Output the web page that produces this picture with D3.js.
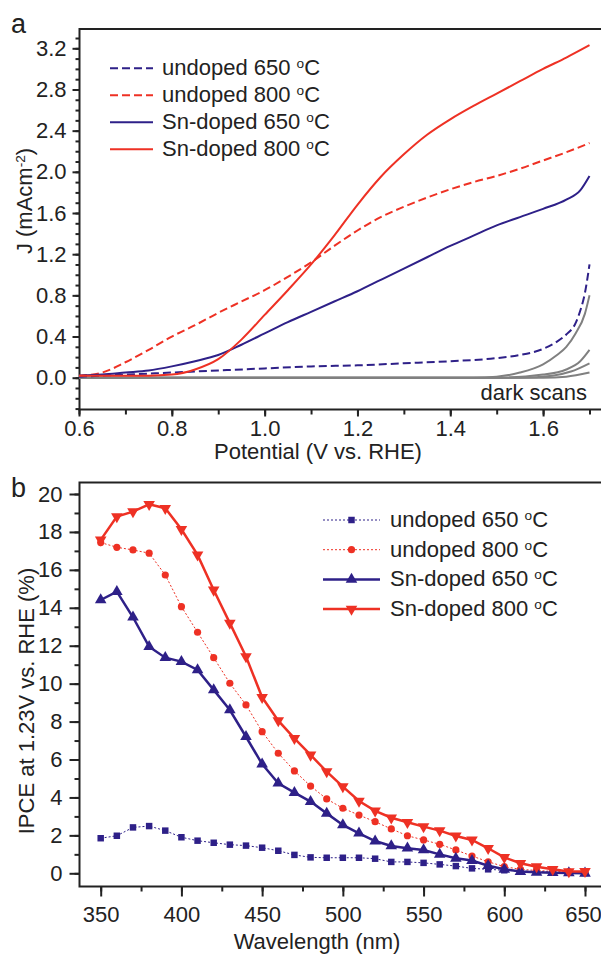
<!DOCTYPE html>
<html>
<head>
  <meta charset="utf-8">
  <title>J-V and IPCE of undoped / Sn-doped films</title>
  <script src="https://d3js.org/d3.v7.min.js"></script>
  <style>
    body { margin: 0; background: #fff; }
    text { font-family: "Liberation Sans", Arial, sans-serif; fill: #222; }
  </style>
</head>
<body>
  <script>
    // ---- panel a: J-V curves (V vs. RHE, mA cm-2) ----
    let potGrid = [0.6, 0.65, 0.7, 0.75, 0.8, 0.85, 0.9, 0.95, 1.0, 1.05, 1.1, 1.15,
                   1.2, 1.25, 1.3, 1.35, 1.4, 1.45, 1.5, 1.55, 1.6, 1.65, 1.7];
    let jSn800 = [0.02, 0.02, 0.02, 0.02, 0.03, 0.08, 0.18, 0.37, 0.61, 0.85, 1.10, 1.38,
                  1.68, 1.95, 2.17, 2.36, 2.51, 2.64, 2.76, 2.88, 3.00, 3.11, 3.23];
    let jUn800 = [0.02, 0.05, 0.15, 0.27, 0.40, 0.51, 0.63, 0.74, 0.85, 0.98, 1.12, 1.28,
                  1.43, 1.56, 1.66, 1.75, 1.83, 1.90, 1.96, 2.03, 2.11, 2.19, 2.28];
    let potSn650 = [0.6, 0.65, 0.7, 0.75, 0.8, 0.85, 0.9, 0.95, 1.0, 1.05, 1.1, 1.15,
                    1.2, 1.25, 1.3, 1.35, 1.4, 1.45, 1.5, 1.55, 1.6, 1.65, 1.68, 1.7];
    let jSn650 = [0.02, 0.03, 0.05, 0.07, 0.11, 0.16, 0.22, 0.32, 0.43, 0.54, 0.64, 0.74,
                  0.84, 0.95, 1.06, 1.17, 1.28, 1.38, 1.48, 1.56, 1.64, 1.73, 1.82, 1.96];
    let potUn650 = [0.6, 0.7, 0.8, 0.9, 1.0, 1.1, 1.2, 1.3, 1.4, 1.5, 1.55, 1.6, 1.63,
                    1.65, 1.67, 1.68, 1.69, 1.7];
    let jUn650 = [0.01, 0.03, 0.05, 0.07, 0.09, 0.11, 0.12, 0.14, 0.16, 0.19, 0.22, 0.28,
                  0.35, 0.42, 0.53, 0.65, 0.82, 1.10];
    // dark scans
    let potDark1 = [0.6, 1.45, 1.5, 1.55, 1.6, 1.63, 1.65, 1.67, 1.69, 1.7];
    let jDark1 = [0, 0, 0.01, 0.05, 0.13, 0.22, 0.30, 0.43, 0.62, 0.80];
    let potDark2 = [0.6, 1.5, 1.6, 1.65, 1.68, 1.7];
    let jDark2 = [0, 0, 0.03, 0.08, 0.16, 0.27];
    let potDark3 = [0.6, 1.55, 1.62, 1.66, 1.7];
    let jDark3 = [0, 0, 0.02, 0.06, 0.14];
    let potDark4 = [0.6, 1.6, 1.65, 1.7];
    let jDark4 = [0, 0, 0.01, 0.05];

    let potTicks = [0.6, 0.8, 1.0, 1.2, 1.4, 1.6];
    let jTicks = [0.0, 0.4, 0.8, 1.2, 1.6, 2.0, 2.4, 2.8, 3.2];

    // ---- panel b: IPCE at 1.23 V vs. RHE (%) ----
    let wavelength = [350, 360, 370, 380, 390, 400, 410, 420, 430, 440, 450, 460, 470, 480,
                      490, 500, 510, 520, 530, 540, 550, 560, 570, 580, 590, 600, 610, 620,
                      630, 640, 650];
    let ipceUn650 = [1.85, 1.98, 2.42, 2.49, 2.25, 1.90, 1.72, 1.61, 1.51, 1.46, 1.35, 1.19,
                     0.97, 0.84, 0.82, 0.82, 0.82, 0.77, 0.60, 0.60, 0.55, 0.47, 0.38, 0.26,
                     0.21, 0.16, 0.12, 0.09, 0.06, 0.04, 0.02];
    let ipceUn800 = [17.44, 17.19, 17.05, 16.88, 15.73, 14.06, 12.71, 11.37, 10.02, 8.88,
                     7.47, 6.33, 5.40, 4.60, 3.92, 3.43, 3.07, 2.72, 2.34, 1.98, 1.76, 1.53,
                     1.23, 0.91, 0.61, 0.35, 0.21, 0.15, 0.10, 0.08, 0.05];
    let ipceSn650 = [14.41, 14.85, 13.50, 11.95, 11.37, 11.16, 10.72, 9.67, 8.61, 7.20, 5.76,
                     4.75, 4.25, 3.78, 3.16, 2.55, 2.11, 1.70, 1.44, 1.32, 1.23, 1.00, 0.79,
                     0.67, 0.40, 0.21, 0.09, 0.05, 0.03, 0.02, 0.00];
    let ipceSn800 = [17.58, 18.81, 19.07, 19.46, 19.25, 18.14, 16.79, 14.94, 13.19, 11.43,
                     9.28, 8.05, 7.12, 6.24, 5.36, 4.57, 3.81, 3.29, 2.93, 2.69, 2.46, 2.25,
                     1.97, 1.76, 1.32, 0.84, 0.53, 0.35, 0.21, 0.09, 0.10];

    let wlTicks = [350, 400, 450, 500, 550, 600, 650];
    let ipceTicks = [0, 2, 4, 6, 8, 10, 12, 14, 16, 18, 20];

    let navy = "#2e2088", red = "#ee3124", gray = "#808080";
    let fs = 22;

    let svg = d3.select("body")
                .append("svg")
                .attr("width", 601)
                .attr("height", 954);

    function zip(xs, ys) { return xs.map(function(x, i) { return [x, ys[i]]; }); }

    // superscripted label helper: parts = [[text, isSup], ...]
    function richText(sel, parts, size) {
      parts.forEach(function(p) {
        let t = sel.append("tspan").text(p[0]);
        if (p[1]) t.attr("font-size", size * 0.62).attr("baseline-shift", "super");
      });
      return sel;
    }

    // =========== panel a ===========
    let ax = d3.scaleLinear().domain([0.6, 1.7]).range([79, 589.5]);
    let ay = d3.scaleLinear().domain([0, 3.2]).range([377.7, 48.3]);
    let aTop = 29, aBot = 409.5;

    let ga = svg.append("g");

    // y axis, major + minor
    ga.append("g")
      .attr("transform", "translate(79.5,0)")
      .call(d3.axisLeft(ay).tickValues(d3.range(-3, 34).map(function(i) { return i / 10; }))
              .tickSize(4).tickFormat(""))
      .call(function(g) { g.select(".domain").remove(); });
    ga.append("g")
      .attr("transform", "translate(79.5,0)")
      .call(d3.axisLeft(ay).tickValues(jTicks).tickSize(7).tickPadding(6).tickFormat(d3.format(".1f")))
      .call(function(g) { g.select(".domain").remove(); });

    // x axis, major + minor
    ga.append("g")
      .attr("transform", "translate(0," + aBot + ")")
      .call(d3.axisBottom(ax).tickValues(d3.range(6, 18).map(function(i) { return i / 10; }))
              .tickSize(5).tickFormat(""))
      .call(function(g) { g.select(".domain").remove(); });
    ga.append("g")
      .attr("transform", "translate(0," + aBot + ")")
      .call(d3.axisBottom(ax).tickValues(potTicks).tickSize(7).tickPadding(3.5).tickFormat(d3.format(".1f")))
      .call(function(g) { g.select(".domain").remove(); });

    ga.selectAll(".tick line").attr("stroke", "#222").attr("stroke-width", 2);
    ga.selectAll(".tick text").attr("font-size", fs).attr("fill", "#222")
      .attr("font-family", "Liberation Sans, Arial, sans-serif");

    // frame
    ga.append("rect")
      .attr("x", 79.5).attr("y", aTop)
      .attr("width", 560).attr("height", aBot - aTop)
      .attr("fill", "none").attr("stroke", "#222").attr("stroke-width", 2);

    let lineA = d3.line()
                  .x(function(d) { return ax(d[0]); })
                  .y(function(d) { return ay(d[1]); })
                  .curve(d3.curveMonotoneX);

    let aSeries = [
      { pts: zip(potDark1, jDark1), color: gray, dash: null },
      { pts: zip(potDark2, jDark2), color: gray, dash: null },
      { pts: zip(potDark3, jDark3), color: gray, dash: null },
      { pts: zip(potDark4, jDark4), color: gray, dash: null },
      { pts: zip(potUn650, jUn650), color: navy, dash: "8,4" },
      { pts: zip(potGrid, jUn800), color: red, dash: "8,4" },
      { pts: zip(potSn650, jSn650), color: navy, dash: null },
      { pts: zip(potGrid, jSn800), color: red, dash: null }
    ];

    ga.selectAll("path.curve")
      .data(aSeries)
      .enter()
      .append("path")
      .attr("class", "curve")
      .attr("d", function(d) { return lineA(d.pts); })
      .attr("fill", "none")
      .attr("stroke", function(d) { return d.color; })
      .attr("stroke-width", 2)
      .attr("stroke-dasharray", function(d) { return d.dash; });

    // legend a
    let legA = [
      { name: "undoped 650 ", color: navy, dash: "8,4" },
      { name: "undoped 800 ", color: red, dash: "8,4" },
      { name: "Sn-doped 650 ", color: navy, dash: null },
      { name: "Sn-doped 800 ", color: red, dash: null }
    ];
    legA.forEach(function(d, i) {
      let y = 68.3 + i * 27;
      ga.append("line").attr("x1", 110).attr("x2", 153).attr("y1", y).attr("y2", y)
        .attr("stroke", d.color).attr("stroke-width", 2).attr("stroke-dasharray", d.dash);
      richText(ga.append("text").attr("x", 162).attr("y", y + 7).attr("font-size", fs),
               [[d.name, false], ["o", true], ["C", false]], fs);
    });

    ga.append("text").attr("x", 587).attr("y", 400).attr("text-anchor", "end")
      .attr("font-size", fs).text("dark scans");

    ga.append("text").attr("x", 318).attr("y", 459).attr("text-anchor", "middle")
      .attr("font-size", fs).text("Potential (V vs. RHE)");

    richText(ga.append("text").attr("transform", "translate(32,201) rotate(-90)")
               .attr("text-anchor", "middle").attr("font-size", fs),
             [["J (mAcm", false], ["-2", true], [")", false]], fs);

    ga.append("text").attr("x", 11).attr("y", 33).attr("font-size", 27).text("a");

    // =========== panel b ===========
    let bx = d3.scaleLinear().domain([350, 650]).range([100.7, 585]);
    let by = d3.scaleLinear().domain([0, 20]).range([873.3, 494]);
    let bTop = 482.5, bBot = 886.5;

    let gb = svg.append("g");

    gb.append("g")
      .attr("transform", "translate(79.5,0)")
      .call(d3.axisLeft(by).tickValues(d3.range(0, 21)).tickSize(5).tickFormat(""))
      .call(function(g) { g.select(".domain").remove(); });
    gb.append("g")
      .attr("transform", "translate(79.5,0)")
      .call(d3.axisLeft(by).tickValues(ipceTicks).tickSize(10).tickPadding(7).tickFormat(d3.format("d")))
      .call(function(g) { g.select(".domain").remove(); });

    gb.append("g")
      .attr("transform", "translate(0," + bBot + ")")
      .call(d3.axisBottom(bx).tickValues(d3.range(350, 660, 25)).tickSize(5).tickFormat(""))
      .call(function(g) { g.select(".domain").remove(); });
    gb.append("g")
      .attr("transform", "translate(0," + bBot + ")")
      .call(d3.axisBottom(bx).tickValues(wlTicks).tickSize(10).tickPadding(10).tickFormat(d3.format("d")))
      .call(function(g) { g.select(".domain").remove(); })
      .call(function(g) {
        // keep the last label inside the page edge
        g.selectAll(".tick text").filter(function(d) { return d === 650; }).attr("dx", -2);
      });

    gb.selectAll(".tick line").attr("stroke", "#222").attr("stroke-width", 2);
    gb.selectAll(".tick text").attr("font-size", fs).attr("fill", "#222")
      .attr("font-family", "Liberation Sans, Arial, sans-serif");

    gb.append("rect")
      .attr("x", 79.5).attr("y", bTop)
      .attr("width", 560).attr("height", bBot - bTop)
      .attr("fill", "none").attr("stroke", "#222").attr("stroke-width", 2);

    let lineB = d3.line()
                  .x(function(d) { return bx(d[0]); })
                  .y(function(d) { return by(d[1]); });

    let triUp = d3.symbol().type(d3.symbolTriangle).size(58)();
    let square = d3.symbol().type(d3.symbolSquare).size(42)();

    let bSeries = [
      { name: "undoped 650 ", vals: ipceUn650, color: navy, width: 1, dash: "2,2", mark: "square" },
      { name: "undoped 800 ", vals: ipceUn800, color: red, width: 1, dash: "2,2", mark: "circle" },
      { name: "Sn-doped 650 ", vals: ipceSn650, color: navy, width: 2.5, dash: null, mark: "up" },
      { name: "Sn-doped 800 ", vals: ipceSn800, color: red, width: 2.5, dash: null, mark: "down" }
    ];

    function drawMark(g, s) {
      if (s.mark === "circle") {
        g.append("circle").attr("r", 3.6).attr("fill", s.color);
      } else if (s.mark === "square") {
        g.append("path").attr("d", square).attr("fill", s.color);
      } else {
        g.append("path").attr("d", triUp).attr("fill", s.color)
          .attr("transform", s.mark === "down" ? "rotate(180)" : null);
      }
    }

    bSeries.forEach(function(s) {
      let pts = zip(wavelength, s.vals);
      gb.append("path")
        .attr("d", lineB(pts))
        .attr("fill", "none")
        .attr("stroke", s.color)
        .attr("stroke-width", s.width)
        .attr("stroke-dasharray", s.dash);
      gb.selectAll(null)
        .data(pts)
        .enter()
        .append("g")
        .attr("transform", function(d) { return "translate(" + bx(d[0]) + "," + by(d[1]) + ")"; })
        .each(function() { drawMark(d3.select(this), s); });
    });

    // legend b
    bSeries.forEach(function(s, i) {
      let y = 520 + i * 29.7;
      gb.append("line").attr("x1", 323).attr("x2", 380).attr("y1", y).attr("y2", y)
        .attr("stroke", s.color).attr("stroke-width", s.width).attr("stroke-dasharray", s.dash);
      drawMark(gb.append("g").attr("transform", "translate(351.5," + y + ")"), s);
      richText(gb.append("text").attr("x", 390).attr("y", y + 7).attr("font-size", fs),
               [[s.name, false], ["o", true], ["C", false]], fs);
    });

    gb.append("text").attr("x", 317).attr("y", 949).attr("text-anchor", "middle")
      .attr("font-size", fs).text("Wavelength (nm)");

    gb.append("text").attr("transform", "translate(34,701) rotate(-90)")
      .attr("text-anchor", "middle").attr("font-size", fs)
      .text("IPCE at 1.23V vs. RHE (%)");

    gb.append("text").attr("x", 11).attr("y", 497).attr("font-size", 27).text("b");
  </script>
</body>
</html>
